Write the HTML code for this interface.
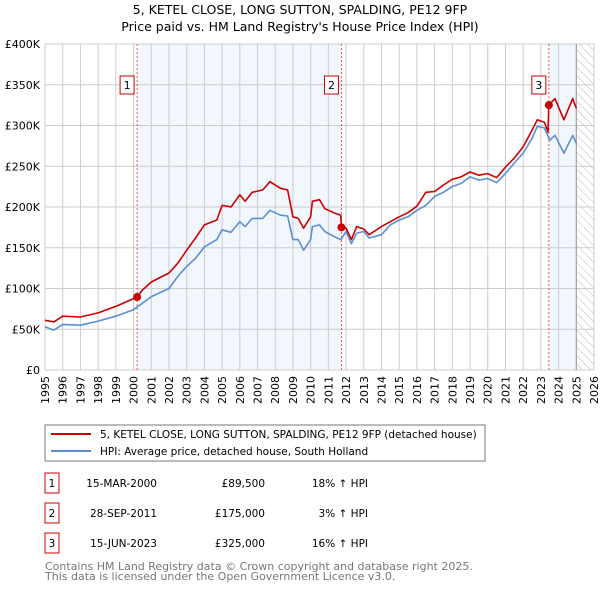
<!DOCTYPE html>
<html><head><meta charset="utf-8"><style>
body{margin:0;background:#fff;font-family:"DejaVu Sans","Liberation Sans",sans-serif;}
svg text{font-family:"DejaVu Sans","Liberation Sans",sans-serif;}
</style></head><body>
<svg id="c" width="600" height="590" viewBox="0 0 600 590">
<defs><pattern id="hatch" width="6" height="6" patternUnits="userSpaceOnUse" patternTransform="rotate(-45)"><line x1="0" y1="0" x2="0" y2="6" stroke="#bbb" stroke-width="1"/></pattern></defs>
<text x="300" y="14" text-anchor="middle" font-size="12.5">5, KETEL CLOSE, LONG SUTTON, SPALDING, PE12 9FP</text>
<text x="300" y="31" text-anchor="middle" font-size="12.5">Price paid vs. HM Land Registry's House Price Index (HPI)</text>
<g id="plot"></g>
<g>
<rect x="45" y="425" width="440" height="36" fill="#fff" stroke="#777"/>
<line x1="51" y1="434" x2="91" y2="434" stroke="#cc0000" stroke-width="2"/>
<text x="100" y="438" font-size="10.5">5, KETEL CLOSE, LONG SUTTON, SPALDING, PE12 9FP (detached house)</text>
<line x1="51" y1="451" x2="91" y2="451" stroke="#5b8fd4" stroke-width="2"/>
<text x="100" y="455" font-size="10.5">HPI: Average price, detached house, South Holland</text>
</g>
<g id="table" font-size="10.5"></g>
<text x="45" y="570" font-size="11" fill="#777">Contains HM Land Registry data © Crown copyright and database right 2025.</text>
<text x="45" y="580" font-size="11" fill="#777">This data is licensed under the Open Government Licence v3.0.</text>
</svg>
<script>
const hpiYears=[1995,1995.5,1996,1997,1998,1999,2000,2000.5,2001,2002,2002.5,2003,2003.5,2004,2004.7,2005,2005.5,2006,2006.3,2006.7,2007.3,2007.7,2008.3,2008.7,2009,2009.3,2009.6,2010,2010.1,2010.5,2010.8,2011.3,2011.7,2012,2012.3,2012.6,2013,2013.3,2014,2014.5,2015,2015.5,2016,2016.5,2017,2017.5,2018,2018.5,2019,2019.5,2020,2020.5,2021,2021.5,2022,2022.5,2022.8,2023.2,2023.5,2023.8,2024.3,2024.8,2025];
const hpiValues=[53,49,56,55,60,66,74,82,90,100,115,127,137,151,160,172,169,182,176,186,186,196,190,189,160,160,147,160,176,178,170,164,160,170,155,168,170,162,166,178,184,188,196,202,213,218,225,229,237,233,235,230,241,254,266,284,299,297,282,288,266,288,278];
const priceYears=[1995,1995.5,1996,1997,1998,1999,2000.2,2000.5,2001,2002,2002.5,2003,2003.5,2004,2004.7,2005,2005.5,2006,2006.3,2006.7,2007.3,2007.7,2008.3,2008.7,2009,2009.3,2009.6,2010,2010.1,2010.5,2010.8,2011.3,2011.7,2011.74,2012,2012.3,2012.6,2013,2013.3,2014,2014.5,2015,2015.5,2016,2016.5,2017,2017.5,2018,2018.5,2019,2019.5,2020,2020.5,2021,2021.5,2022,2022.5,2022.8,2023.2,2023.4,2023.45,2023.8,2024.3,2024.8,2025];
const priceValues=[61,59,66,65,70,78,89.5,98,108,119,131,147,162,178,184,202,200,215,207,218,221,231,223,221,188,186,174,188,207,209,198,193,190,175,174,160,176,173,166,176,182,188,193,201,218,219,227,234,237,243,239,241,236,249,260,274,294,307,304,292,325,333,307,333,321];
const saleYears=[2000.2,2011.74,2023.45];
const saleValues=[89.5,175,325];
const saleLabels=["1","2","3"];
const saleDates=["15-MAR-2000","28-SEP-2011","15-JUN-2023"];
const salePrices=["£89,500","£175,000","£325,000"];
const saleHpi=["18% ↑ HPI","3% ↑ HPI","16% ↑ HPI"];
const yTicks=[0,50,100,150,200,250,300,350,400];
const yTickLabels=["£0","£50K","£100K","£150K","£200K","£250K","£300K","£350K","£400K"];
const xTicks=[];for(let y=1995;y<=2026;y++)xTicks.push(y);

const X0=45,X1=594,Y0=370,Y1=44;
const xs=y=>X0+(y-1995)/(2026-1995)*(X1-X0);
const ys=v=>Y0-v/400*(Y0-Y1);
const NS="http://www.w3.org/2000/svg";
const plot=document.getElementById('plot');
function mk(tag,attrs,parent){const e=document.createElementNS(NS,tag);for(const k in attrs)e.setAttribute(k,attrs[k]);(parent||plot).appendChild(e);return e;}

let e;
e=mk('rect',{x:X0,y:Y1,width:X1-X0,height:Y0-Y1,fill:'#fff'});


for(let i=0;i<saleYears.length;i++){
  if(i===1)continue;
  const a=saleYears[i];
  e=mk('rect',{x:xs(a),y:Y1,width:xs(i===0?saleYears[1]:2025)-xs(a),height:Y0-Y1,fill:'#eef3fc',opacity:0.75});
  
  
}
e=mk('rect',{x:xs(2025),y:Y1,width:X1-xs(2025),height:Y0-Y1,fill:'url(#hatch)'});


xTicks.forEach(t=>{
  e=mk('line',{x1:xs(t),x2:xs(t),y1:Y1,y2:Y0,stroke:'#cccccc','stroke-width':1});
  
  
  const tx=xs(t)+4,ty=376;
  e=mk('text',{x:tx,y:ty,'text-anchor':'end','font-size':11,transform:'rotate(-90 '+tx+' '+ty+')'});
  e.textContent=t;
  
  
});
yTicks.forEach((t,i)=>{
  e=mk('line',{x1:X0,x2:X1,y1:ys(t),y2:ys(t),stroke:'#cccccc','stroke-width':1});
  
  
  e=mk('text',{x:40,y:ys(t)+4,'text-anchor':'end','font-size':11});
  e.textContent=yTickLabels[i];
  
  
});
e=mk('line',{x1:xs(2025),x2:xs(2025),y1:Y1,y2:Y0,stroke:'#999','stroke-width':1});


saleYears.forEach(s=>{
  e=mk('line',{x1:xs(s),x2:xs(s),y1:Y1,y2:Y0,stroke:'#ee5555','stroke-width':1,'stroke-dasharray':'2,2'});
  
  
});
function path(xv,yv,col,name){
  const d=xv.map((x,i)=>(i?'L':'M')+xs(x).toFixed(1)+','+ys(yv[i]).toFixed(1)).join('');
  e=mk('path',{d:d,fill:'none',stroke:col,'stroke-width':1.6,'stroke-linejoin':'round'});
  
  
}
path(hpiYears,hpiValues,'#5b8fd4','hpi-line');
path(priceYears,priceValues,'#cc0000','price-paid-line');
saleYears.forEach((s,i)=>{
  e=mk('circle',{cx:xs(s),cy:ys(saleValues[i]),r:4,fill:'#cc0000'});
  
  
  const bx=xs(s)-3-14;
  e=mk('rect',{x:bx,y:76,width:14,height:18,fill:'#fff',stroke:'#cc0000','stroke-width':1});
  
  
  e=mk('text',{x:bx+7,y:89,'text-anchor':'middle','font-size':11});
  e.textContent=saleLabels[i];
  
  
});
const tbl=document.getElementById('table');
saleLabels.forEach((l,i)=>{
  const cy=483+i*30;
  e=mk('rect',{x:45,y:cy-10,width:14,height:20,fill:'#fff',stroke:'#cc0000'},tbl);
  
  
  e=mk('text',{x:52,y:cy+4,'text-anchor':'middle'},tbl);e.textContent=l;
  
  
  e=mk('text',{x:157,y:cy+4,'text-anchor':'end'},tbl);e.textContent=saleDates[i];
  
  
  e=mk('text',{x:265,y:cy+4,'text-anchor':'end'},tbl);e.textContent=salePrices[i];
  
  
  e=mk('text',{x:368,y:cy+4,'text-anchor':'end'},tbl);e.textContent=saleHpi[i];
  
  
});
</script>
</body></html>
